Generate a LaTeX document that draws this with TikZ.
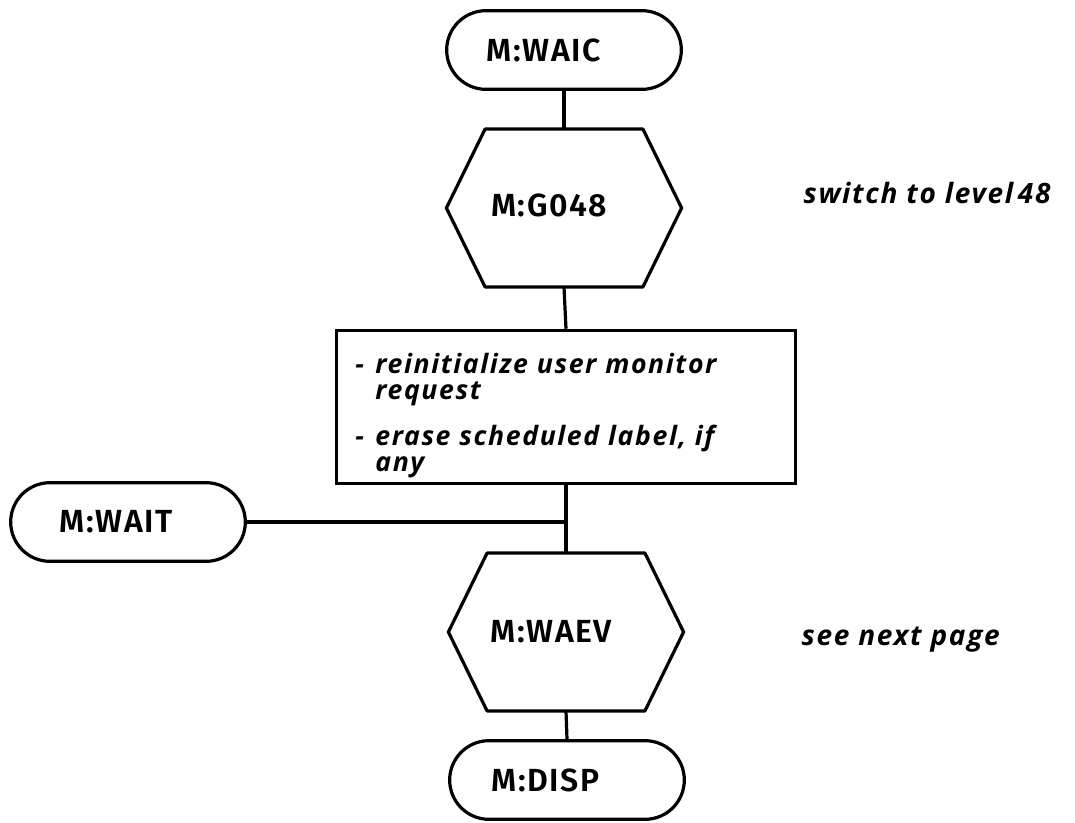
\documentclass[tikz,border=0pt]{standalone}
\usepackage{fontspec}
\usetikzlibrary{shapes.misc}
\newfontfamily\labelfont{Fira Sans SemiBold}[LetterSpace=5]
\newfontfamily\notefont{Open Sans}[BoldItalicFont={* Bold Italic},LetterSpace=6]
\newcommand{\itemdash}{\makebox[15pt][l]{-}}
\begin{document}
\begin{tikzpicture}[x=0.75pt,y=-0.75pt,line width=2.4pt,
  terminal/.style={draw,rounded rectangle,minimum width=176pt,minimum height=59pt,
    inner sep=0pt,font=\labelfont\fontsize{24}{26}\selectfont},
  hexbox/.style={minimum width=116pt,minimum height=116pt,inner sep=0pt,
    font=\labelfont\fontsize{24}{26}\selectfont,
    append after command={
      \pgfextra{\draw[line width=2.4pt,line join=round]
        (\tikzlastnode.north west) -- (\tikzlastnode.north east)
        -- ([xshift=29pt]\tikzlastnode.east) -- (\tikzlastnode.south east)
        -- (\tikzlastnode.south west) -- ([xshift=-29pt]\tikzlastnode.west) -- cycle;}}},
  procbox/.style={draw,minimum width=344pt,minimum height=115pt,inner xsep=14pt,
    text width=316pt,align=left,
    font=\notefont\bfseries\itshape\fontsize{20}{20}\selectfont},
  note/.style={anchor=west,inner sep=0pt,font=\notefont\bfseries\itshape\fontsize{21}{23}\selectfont}]
  \useasboundingbox (0,0) rectangle (1075,822);

  % main column
  \node[terminal] (waic) at (564,50) {M:WAIC\hspace*{30pt}};
  \node[hexbox]   (g48)  at (564,208) {\raisebox{5pt}{M:G048}\hspace*{22pt}};
  \node[procbox]  (proc) at (566,407) {%
    \rule{0pt}{28pt}\itemdash reinitialize user monitor\\
    \hspace*{15pt}request\\[13pt]
    \itemdash erase scheduled label, if\\
    \hspace*{15pt}any};
  \node[hexbox]   (waev) at (566,632) {M:WAEV\hspace*{22pt}};
  \node[terminal] (disp) at (567,780) {M:DISP\hspace*{32pt}};

  % side entry
  \node[terminal] (wait) at (128,522) {M:WAIT\hspace*{18pt}};
  \coordinate (join) at (proc.south |- wait.east);

  % connectors
  \draw (waic.south) -- (g48.north);
  \draw (g48.south) -- (proc.north);
  \draw (proc.south) -- (join) -- (waev.north);
  \draw (wait.east) -- (join);
  \draw (waev.south) -- (disp.north);

  % remarks
  \node[note] (n1) at (802,193) {switch to level\,48};
  \node[note] (n2) at (800,640) {see next page};
\end{tikzpicture}
\end{document}
